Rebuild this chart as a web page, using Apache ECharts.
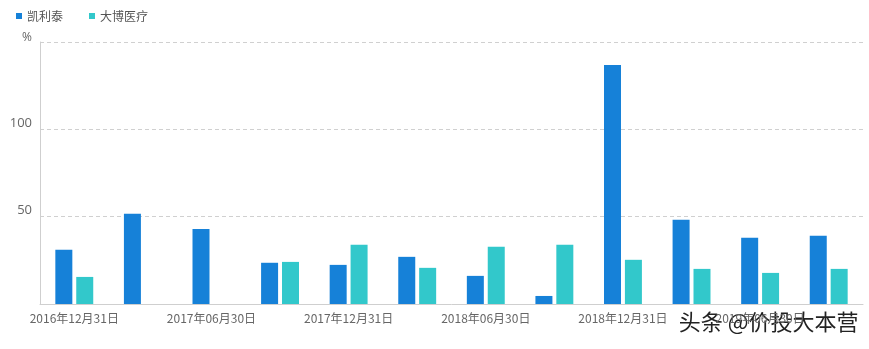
<!DOCTYPE html>
<html><head><meta charset="utf-8">
<script src="https://cdn.jsdelivr.net/npm/echarts@6/dist/echarts.min.js"></script>
<style>html,body{margin:0;padding:0;background:#fff}#c{width:869px;height:349px}</style>
</head><body><div id="c"></div>
<script>
var categories = ['2016年12月31日','2017年03月31日','2017年06月30日','2017年09月30日','2017年12月31日','2018年03月31日','2018年06月30日','2018年09月30日','2018年12月31日','2019年03月31日','2019年06月30日','2019年09月30日'];
var seriesNames = ['凯利泰','大博医疗'];
var kailitai = [31.0, 51.7, 42.9, 23.6, 22.4, 27.0, 16.1, 4.6, 136.8, 48.3, 37.9, 39.1];
var dabo = [15.5, null, null, 24.1, 33.9, 20.7, 32.8, 33.9, 25.3, 20.1, 17.8, 20.1];
var yTicks = [0, 50, 100, 150];

var chart = echarts.init(document.getElementById('c'));
chart.setOption({
  animation: false,
  color: ['#1681d8', '#32c8cb'],
  legend: {
    left: 11, top: 5, itemWidth: 6, itemHeight: 6, itemGap: 26, icon: 'rect',
    textStyle: {color: '#555', fontSize: 12, fontFamily: 'Noto Sans CJK SC'},
    data: seriesNames
  },
  grid: {left: 40, right: 6, top: 42, bottom: 45},
  xAxis: {
    type: 'category', data: categories,
    axisLine: {lineStyle: {color: '#cfcfcf'}},
    axisTick: {show: false},
    axisLabel: {interval: 1, color: '#666', fontSize: 12, margin: 8, fontFamily: 'Noto Sans CJK SC'}
  },
  yAxis: {
    type: 'value', min: yTicks[0], max: yTicks[yTicks.length-1], interval: 50,
    axisLine: {show: true, lineStyle: {color: '#cfcfcf'}},
    axisTick: {show: false},
    splitLine: {lineStyle: {color: '#d0d0d0', type: [4, 3]}},
    axisLabel: {
      color: '#666', fontSize: 13, margin: 8, fontFamily: 'Open Sans', verticalAlign: 'bottom',
      formatter: function (v) { if (v === 0) return ''; if (v === 150) return '{p|%}'; return String(v); },
      rich: {p: {color: '#666', fontSize: 12, fontFamily: 'Open Sans', padding: [0, 0, -2, 0]}}
    }
  },
  series: [
    {name: seriesNames[0], type: 'bar', data: kailitai, barWidth: 17, barGap: '23%'},
    {name: seriesNames[1], type: 'bar', data: dabo, barWidth: 17, barGap: '23%'}
  ],
  graphic: [{
    type: 'text', right: 9, top: 309,
    style: {text: '头条 @价投大本营', fontSize: 22, fontFamily: 'Noto Sans CJK SC', fill: '#222', stroke: '#fff', lineWidth: 3}
  }]
});
</script></body></html>
